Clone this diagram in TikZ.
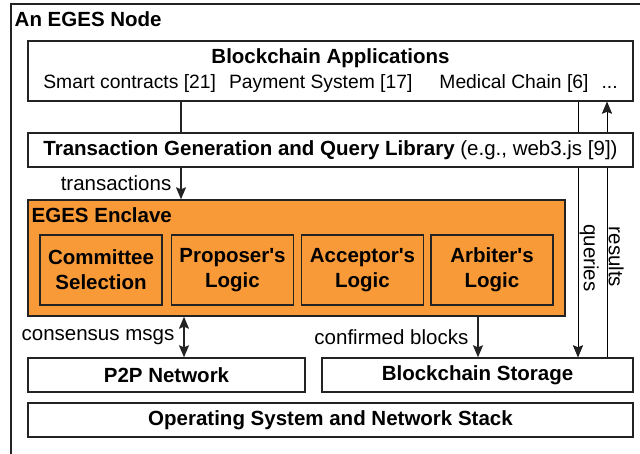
\documentclass[tikz,border=0pt]{standalone}
\usepackage{fontspec}
\setmainfont{Liberation Sans}
\newfontfamily\rawfont{Liberation Sans}[Ligatures=ResetAll]
\usetikzlibrary{arrows.meta, positioning, calc, backgrounds}
\definecolor{enclave}{RGB}{249, 154, 56}
\definecolor{edge}{RGB}{35, 35, 35}
\newcommand{\apos}{{\rawfont'}}

\begin{document}
\begin{tikzpicture}[x=1pt, y=-1pt, line width=1.4pt, draw=edge,
    >={Stealth[length=12pt, width=10pt, inset=2pt]},
    layer/.style={rectangle, draw=edge, fill=white, minimum height=34pt,
                  inner sep=0pt, align=center, font=\fontsize{20.5}{25}\selectfont},
    logic/.style={rectangle, draw=edge, fill=enclave, minimum width=122pt,
                  minimum height=70pt, inner sep=0pt, align=center,
                  font=\fontsize{20.5}{25}\selectfont\bfseries},
    lbl/.style={font=\fontsize{20.5}{22}\selectfont, inner sep=2pt},
    side/.style={lbl, left, xshift=-7pt}]

    \useasboundingbox (0,0) rectangle (640,454);

    % outer frame of the node
    \draw (11,454) -- (11,4) -- (640,4);
    \node[lbl, font=\fontsize{20.5}{22}\selectfont\bfseries, anchor=west] (title) at (12,19) {An EGES Node};

    \node[layer, minimum width=605pt, minimum height=60pt] (apps) at (330.5,71)
        {\textbf{Blockchain Applications}\\
         {\fontsize{19.3}{25}\selectfont Smart contracts [21]\hspace{13pt}Payment System [17]\hspace{27pt}Medical Chain [6]\hspace{13pt}...}};
    \node[layer, minimum width=605pt] (tgql) at (330.5,150)
        {\textbf{Transaction Generation and Query Library} (e.g., web3.js [9])};

    \node[layer, fill=enclave, minimum width=537pt, minimum height=116pt] (encl) at (296.5,258) {};
    \node[lbl, font=\fontsize{20.5}{22}\selectfont\bfseries, anchor=west] (encltitle) at (29,215) {EGES Enclave};
    \node[logic] (committee) at (101,270) {Committee\\Selection};
    \node[logic] (proposer) at (232.5,270) {Proposer\apos s\\Logic};
    \node[logic] (acceptor) at (362.5,270) {Acceptor\apos s\\Logic};
    \node[logic] (arbiter) at (492,270) {Arbiter\apos s\\Logic};

    \node[layer, minimum width=277pt] (p2p) at (166.5,375) {\textbf{P2P Network}};
    \node[layer, minimum width=311pt] (store) at (477.5,375) {\textbf{Blockchain Storage}};
    \node[layer, minimum width=605pt] (os) at (330.5,420) {\textbf{Operating System and Network Stack}};

    % columns of the connectors
    \coordinate (txcol) at (181,0);
    \coordinate (cmcol) at (184,0);
    \coordinate (blcol) at (478,0);
    \coordinate (qucol) at (578,0);
    \coordinate (recol) at (607,0);

    \draw (apps.south -| txcol) -- (tgql.north -| txcol);
    \draw[->] (tgql.south -| txcol) -- node[side]{transactions} (encl.north -| txcol);
    \draw[<->] (encl.south -| cmcol) -- node[side]{consensus msgs} (p2p.north -| cmcol);
    \draw[->] (encl.south -| blcol) -- node[side]{confirmed blocks} (store.north -| blcol);
    \begin{scope}[on background layer]
        \draw[->] (apps.south -| qucol) -- (store.north -| qucol);
        \draw[->] (store.north -| recol) -- (apps.south -| recol);
    \end{scope}
    \node[lbl, rotate=-90, anchor=south, inner sep=1pt] (qulbl) at (578,258) {queries};
    \node[lbl, rotate=-90, anchor=south, inner sep=1pt] (relbl) at (607,257) {results};
\end{tikzpicture}
\end{document}
